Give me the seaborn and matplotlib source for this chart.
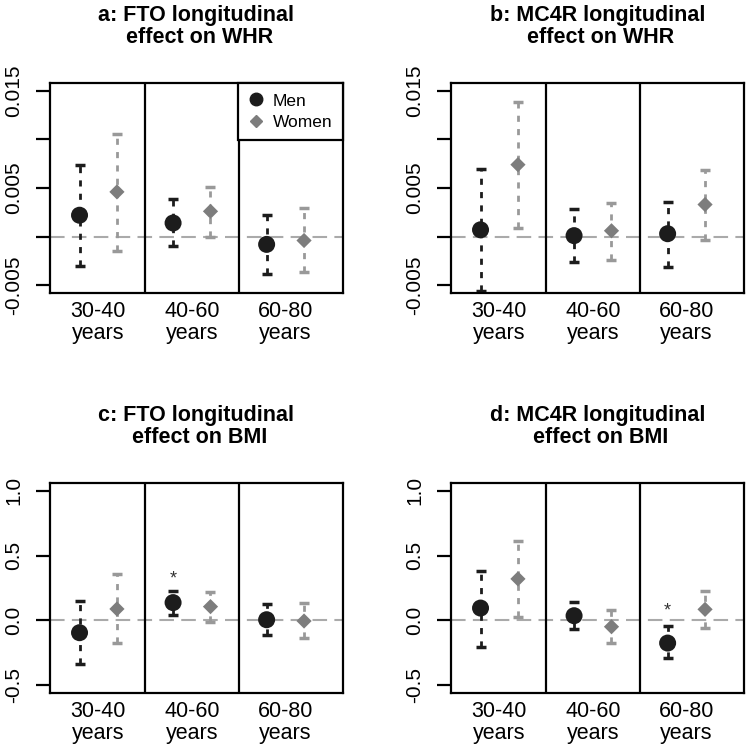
import matplotlib
matplotlib.use("Agg")
import matplotlib.pyplot as plt
from matplotlib.lines import Line2D
import seaborn as sns
import pandas as pd

# age groups (x categories)
groups = ["30-40\nyears", "40-60\nyears", "60-80\nyears"]

# a: FTO on WHR
fto_whr_men_est = [0.0022, 0.0014, -0.0008]
fto_whr_men_lo = [-0.0030, -0.0010, -0.0038]
fto_whr_men_hi = [0.0074, 0.0039, 0.0022]
fto_whr_women_est = [0.0046, 0.0026, -0.0004]
fto_whr_women_lo = [-0.0015, 0.0000, -0.0036]
fto_whr_women_hi = [0.0106, 0.0051, 0.0029]

# b: MC4R on WHR
mc4r_whr_men_est = [0.0007, 0.0001, 0.0003]
mc4r_whr_men_lo = [-0.0056, -0.0026, -0.0031]
mc4r_whr_men_hi = [0.0070, 0.0028, 0.0036]
mc4r_whr_women_est = [0.0074, 0.0006, 0.0033]
mc4r_whr_women_lo = [0.0009, -0.0024, -0.0003]
mc4r_whr_women_hi = [0.0138, 0.0035, 0.0069]

# c: FTO on BMI
fto_bmi_men_est = [-0.095, 0.137, 0.005]
fto_bmi_men_lo = [-0.338, 0.041, -0.111]
fto_bmi_men_hi = [0.152, 0.229, 0.124]
fto_bmi_women_est = [0.088, 0.106, -0.005]
fto_bmi_women_lo = [-0.178, -0.010, -0.137]
fto_bmi_women_hi = [0.356, 0.216, 0.131]
fto_bmi_men_sig = [False, True, False]

# d: MC4R on BMI
mc4r_bmi_men_est = [0.095, 0.036, -0.175]
mc4r_bmi_men_lo = [-0.204, -0.067, -0.294]
mc4r_bmi_men_hi = [0.384, 0.144, -0.046]
mc4r_bmi_women_est = [0.320, -0.049, 0.085]
mc4r_bmi_women_lo = [0.028, -0.178, -0.059]
mc4r_bmi_women_hi = [0.613, 0.080, 0.227]
mc4r_bmi_men_sig = [False, False, True]

titles = ["a: FTO longitudinal\n effect on WHR", "b: MC4R longitudinal\n effect on WHR",
          "c: FTO longitudinal\n effect on BMI", "d: MC4R longitudinal\n effect on BMI"]

sns.set_style("white", rc={"text.color": "black", "xtick.color": "black",
                           "ytick.color": "black", "axes.labelcolor": "black",
                           "axes.edgecolor": "black"})
plt.rcParams["font.family"] = ["Liberation Sans", "DejaVu Sans"]

MEN_COL = "#1c1c1c"
WOMEN_COL = "#7d7d7d"
WOMEN_BAR = "#999999"


def make_df(sex, est, lo, hi):
    return pd.DataFrame({"group": range(1, 4), "sex": sex, "est": est, "lo": lo, "hi": hi})


def panel(ax, men, women, ylim, yticks, ylabels, title, sig=None, sig_off=0.1):
    df = pd.concat([make_df("Men", *men), make_df("Women", *women)], ignore_index=True)
    df["x"] = df["group"] + df["sex"].map({"Men": -0.2, "Women": 0.2})

    ax.axhline(0, color="#aaaaaa", lw=1.5, ls=(0, (7, 3.5)), zorder=1)
    for sex, col, bcol in [("Men", MEN_COL, MEN_COL), ("Women", WOMEN_COL, WOMEN_BAR)]:
        d = df[df["sex"] == sex]
        ax.vlines(d["x"], d["lo"], d["hi"], color=bcol, lw=2, ls=(0, (2.2, 2.6)), zorder=2)
        ax.plot(d["x"], d["lo"], ls="none", marker="_", ms=7, mew=2.5, color=bcol, zorder=2)
        ax.plot(d["x"], d["hi"], ls="none", marker="_", ms=7, mew=2.5, color=bcol, zorder=2)
    sns.scatterplot(data=df, x="x", y="est", hue="sex", style="sex",
                    palette={"Men": MEN_COL, "Women": WOMEN_COL},
                    markers={"Men": "o", "Women": "D"}, size="sex",
                    sizes={"Men": 150, "Women": 60}, linewidth=0,
                    legend=False, ax=ax, zorder=3)

    if sig is not None:
        d = df[df["sex"] == "Men"].reset_index(drop=True)
        for i, s in enumerate(sig):
            if s:
                ax.text(d.loc[i, "x"], d.loc[i, "hi"] + sig_off, "*", ha="center",
                        va="center", fontsize=13, color="#333333")

    for b in [1.5, 2.5]:
        ax.axvline(b, color="black", lw=1.6, zorder=1)

    ax.set_xlim(0.484, 3.616)
    ax.set_ylim(*ylim)
    ax.set_xticks([1, 2, 3])
    ax.set_xticklabels(groups, fontsize=15.5, linespacing=1.05, color="black")
    ax.set_yticks(yticks)
    ax.set_yticklabels(ylabels, rotation=90, va="center", fontsize=15, color="black")
    ax.tick_params(axis="x", length=0, pad=6)
    ax.tick_params(axis="y", length=10, width=1.6, pad=9, left=True, color="black")
    ax.set_xlabel("")
    ax.set_ylabel("")
    for sp in ax.spines.values():
        sp.set_color("black")
        sp.set_linewidth(1.6)
    ax.text(0.5, 1.27, title, transform=ax.transAxes, ha="center", va="center",
            fontsize=15.5, fontweight="bold", linespacing=1.05, color="black")


fig = plt.figure(figsize=(7.48, 7.49), dpi=100)
w, h = 0.3917, 0.2804
ax_a = fig.add_axes([0.0668, 0.6088, w, h])
ax_b = fig.add_axes([0.6029, 0.6088, w, h])
ax_c = fig.add_axes([0.0668, 0.0748, w, h])
ax_d = fig.add_axes([0.6029, 0.0748, w, h])

whr_lim = (-0.0058, 0.0158)
whr_ticks = [-0.005, 0.0, 0.005, 0.010, 0.015]
whr_labels = ["-0.005", "", "0.005", "", "0.015"]
bmi_lim = (-0.56, 1.06)
bmi_ticks = [-0.5, 0.0, 0.5, 1.0]
bmi_labels = ["-0.5", "0.0", "0.5", "1.0"]

panel(ax_a, (fto_whr_men_est, fto_whr_men_lo, fto_whr_men_hi),
      (fto_whr_women_est, fto_whr_women_lo, fto_whr_women_hi),
      whr_lim, whr_ticks, whr_labels, titles[0])
panel(ax_b, (mc4r_whr_men_est, mc4r_whr_men_lo, mc4r_whr_men_hi),
      (mc4r_whr_women_est, mc4r_whr_women_lo, mc4r_whr_women_hi),
      whr_lim, whr_ticks, whr_labels, titles[1])
panel(ax_c, (fto_bmi_men_est, fto_bmi_men_lo, fto_bmi_men_hi),
      (fto_bmi_women_est, fto_bmi_women_lo, fto_bmi_women_hi),
      bmi_lim, bmi_ticks, bmi_labels, titles[2], sig=fto_bmi_men_sig, sig_off=0.09)
panel(ax_d, (mc4r_bmi_men_est, mc4r_bmi_men_lo, mc4r_bmi_men_hi),
      (mc4r_bmi_women_est, mc4r_bmi_women_lo, mc4r_bmi_women_hi),
      bmi_lim, bmi_ticks, bmi_labels, titles[3], sig=mc4r_bmi_men_sig, sig_off=0.12)

handles = [Line2D([], [], ls="none", marker="o", ms=9, color=MEN_COL, label="Men"),
           Line2D([], [], ls="none", marker="D", ms=6.5, color=WOMEN_COL, label="Women")]
leg = ax_a.legend(handles=handles, loc="upper right", borderaxespad=0, fontsize=12.5,
                  frameon=True, fancybox=False, edgecolor="black", framealpha=1,
                  borderpad=0.6, handlelength=0.9, handletextpad=0.5, labelspacing=0.35)
leg.get_frame().set_linewidth(1.6)
for t in leg.get_texts():
    t.set_color("black")

fig.savefig("out.png", dpi=100)
